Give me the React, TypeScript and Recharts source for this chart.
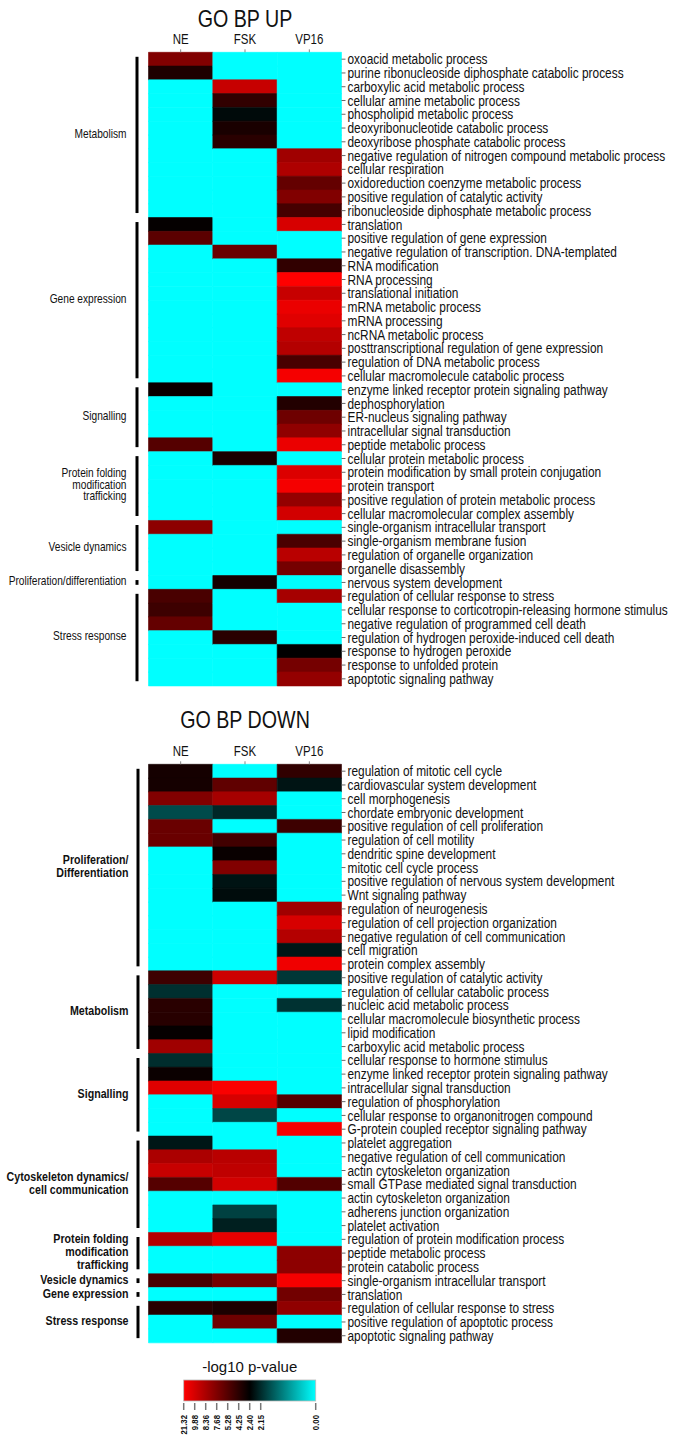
import React from 'react';
import { BarChart, Bar, XAxis, YAxis, Cell } from 'recharts';

const columns = ['NE', 'FSK', 'VP16'];

// GO BP UP terms, top to bottom
const upTerms = [
  'oxoacid metabolic process',
  'purine ribonucleoside diphosphate catabolic process',
  'carboxylic acid metabolic process',
  'cellular amine metabolic process',
  'phospholipid metabolic process',
  'deoxyribonucleotide catabolic process',
  'deoxyribose phosphate catabolic process',
  'negative regulation of nitrogen compound metabolic process',
  'cellular respiration',
  'oxidoreduction coenzyme metabolic process',
  'positive regulation of catalytic activity',
  'ribonucleoside diphosphate metabolic process',
  'translation',
  'positive regulation of gene expression',
  'negative regulation of transcription. DNA-templated',
  'RNA modification',
  'RNA processing',
  'translational initiation',
  'mRNA metabolic process',
  'mRNA processing',
  'ncRNA metabolic process',
  'posttranscriptional regulation of gene expression',
  'regulation of DNA metabolic process',
  'cellular macromolecule catabolic process',
  'enzyme linked receptor protein signaling pathway',
  'dephosphorylation',
  'ER-nucleus signaling pathway',
  'intracellular signal transduction',
  'peptide metabolic process',
  'cellular protein metabolic process',
  'protein modification by small protein conjugation',
  'protein transport',
  'positive regulation of protein metabolic process',
  'cellular macromolecular complex assembly',
  'single-organism intracellular transport',
  'single-organism membrane fusion',
  'regulation of organelle organization',
  'organelle disassembly',
  'nervous system development',
  'regulation of cellular response to stress',
  'cellular response to corticotropin-releasing hormone stimulus',
  'negative regulation of programmed cell death',
  'regulation of hydrogen peroxide-induced cell death',
  'response to hydrogen peroxide',
  'response to unfolded protein',
  'apoptotic signaling pathway',
];

// -log10 p-values (0 = not enriched)
const upNE = [7.7, 3.7, 0, 0, 0, 0, 0, 0, 0, 0, 0, 0, 2.6, 5.6, 0, 0, 0, 0, 0, 0, 0, 0, 0, 0, 2.8, 0, 0, 0, 5.3, 0, 0, 0, 0, 0, 7.9, 0, 0, 0, 0, 5.0, 4.7, 6.1, 0, 0, 0, 0];
const upFSK = [0, 0, 9.4, 4.4, 2.34, 3.5, 4.2, 0, 0, 0, 0, 0, 0, 0, 6.4, 0, 0, 0, 0, 0, 0, 0, 0, 0, 0, 0, 0, 0, 0, 3.5, 0, 0, 0, 0, 0, 0, 0, 0, 3.3, 0, 0, 0, 4.2, 0, 0, 0];
const upVP16 = [0, 0, 0, 0, 0, 0, 0, 8.2, 8.5, 6.1, 7.7, 4.9, 10.5, 0, 0, 4.4, 21.32, 9.4, 16, 13, 9.1, 8.7, 5.0, 18.6, 0, 3.9, 6.7, 7.95, 16, 0, 11.9, 18.6, 8.0, 9.8, 0, 5.0, 8.9, 7.1, 0, 8.3, 0, 0, 0, 2.4, 7.1, 8.0];

const upGroups = [
  { label: ['Metabolism'], rows: 12 },
  { label: ['Gene expression'], rows: 12 },
  { label: ['Signalling'], rows: 5 },
  { label: ['Protein folding', 'modification', 'trafficking'], rows: 5 },
  { label: ['Vesicle dynamics'], rows: 4 },
  { label: ['Proliferation/differentiation'], rows: 1 },
  { label: ['Stress response'], rows: 7 },
];

// GO BP DOWN terms
const downTerms = [
  'regulation of mitotic cell cycle',
  'cardiovascular system development',
  'cell morphogenesis',
  'chordate embryonic development',
  'positive regulation of cell proliferation',
  'regulation of cell motility',
  'dendritic spine development',
  'mitotic cell cycle process',
  'positive regulation of nervous system development',
  'Wnt signaling pathway',
  'regulation of neurogenesis',
  'regulation of cell projection organization',
  'negative regulation of cell communication',
  'cell migration',
  'protein complex assembly',
  'positive regulation of catalytic activity',
  'regulation of cellular catabolic process',
  'nucleic acid metabolic process',
  'cellular macromolecule biosynthetic process',
  'lipid modification',
  'carboxylic acid metabolic process',
  'cellular response to hormone stimulus',
  'enzyme linked receptor protein signaling pathway',
  'intracellular signal transduction',
  'regulation of phosphorylation',
  'cellular response to organonitrogen compound',
  'G-protein coupled receptor signaling pathway',
  'platelet aggregation',
  'negative regulation of cell communication',
  'actin cytoskeleton organization',
  'small GTPase mediated signal transduction',
  'actin cytoskeleton organization',
  'adherens junction organization',
  'platelet activation',
  'regulation of protein modification process',
  'peptide metabolic process',
  'protein catabolic process',
  'single-organism intracellular transport',
  'translation',
  'regulation of cellular response to stress',
  'positive regulation of apoptotic process',
  'apoptotic signaling pathway',
];

const downNE = [3.3, 3.3, 7.7, 1.82, 6.4, 6.4, 0, 0, 0, 0, 0, 0, 0, 0, 0, 4.7, 2.1, 4.2, 4.1, 2.6, 8.2, 2.12, 2.9, 13, 0, 0, 0, 2.27, 8.4, 9.4, 5.3, 0, 0, 0, 8.7, 0, 0, 5.0, 0, 4.1, 0, 0];
const downFSK = [0, 5.9, 8.3, 2.17, 0, 4.8, 2.8, 7.7, 2.29, 2.33, 0, 0, 0, 0, 0, 9.6, 0, 0, 0, 0, 0, 0, 0, 19.9, 10.5, 1.87, 0, 0, 8.9, 9.1, 9.8, 0, 1.92, 2.22, 14.6, 0, 0, 7.1, 0, 3.6, 6.7, 0];
const downVP16 = [4.4, 2.28, 0, 0, 4.7, 0, 0, 0, 0, 0, 8.2, 10.5, 8.7, 2.27, 17.3, 2.02, 0, 2.07, 0, 0, 0, 0, 0, 0, 5.3, 0, 18.6, 0, 0, 0, 5.2, 0, 0, 0, 0, 7.9, 7.9, 18.6, 6.9, 7.95, 0, 3.9];

const downGroups = [
  { label: ['Proliferation/', 'Differentiation'], rows: 15 },
  { label: ['Metabolism'], rows: 6 },
  { label: ['Signalling'], rows: 6 },
  { label: ['Cytoskeleton dynamics/', 'cell communication'], rows: 7 },
  { label: ['Protein folding', 'modification', 'trafficking'], rows: 3 },
  { label: ['Vesicle dynamics'], rows: 1 },
  { label: ['Gene expression'], rows: 1 },
  { label: ['Stress response'], rows: 3 },
];

// colour key: tick values and their slot along the bar (out of 12)
const legendValues = [21.32, 9.88, 8.36, 7.68, 5.28, 4.25, 2.4, 2.15, 0.0];
const legendSlots = [0, 1, 2, 3, 4, 5, 6, 7, 12];

// no Arial Narrow here, so squeeze Liberation Sans instead
const SANS = '"Liberation Sans", Arial, sans-serif';
const SQUEEZE = 0.82;

const ROW_H = 13.77;
const PLOT_TOP = 52.3;
const PLOT_LEFT = 148.5;
const LABEL_W = 333.5;

function valueToPos(v: number) {
  if (v >= legendValues[0]) return 0;
  if (v <= 0) return 1;
  for (let i = 0; i < legendValues.length - 1; i++) {
    const a = legendValues[i];
    const b = legendValues[i + 1];
    if (v <= a && v >= b) {
      const f = (a - v) / (a - b);
      return (legendSlots[i] + f * (legendSlots[i + 1] - legendSlots[i])) / 12;
    }
  }
  return 1;
}

// red -> black -> cyan
function heatColor(v: number) {
  const t = valueToPos(v);
  if (t <= 0.5) {
    const r = Math.round(255 * (1 - 2 * t));
    return `rgb(${r},0,0)`;
  }
  const g = Math.round(255 * (2 * t - 1));
  return `rgb(0,${g},${g})`;
}

function NarrowText({ x, y, size, anchor = 'start', weight = 400, dy = '0.35em', children }: any) {
  return (
    <text
      transform={`translate(${x},${y}) scale(${SQUEEZE},1)`}
      x={0}
      y={0}
      dy={dy}
      textAnchor={anchor}
      fontFamily={SANS}
      fontSize={size}
      fontWeight={weight}
      fill="#111"
    >
      {children}
    </text>
  );
}

function Heatmap({ title, terms, ne, fsk, vp16, groups, bold, top, titleBase }: any) {
  const data = terms.map((name: string, i: number) => ({ id: String(i), name, NE: ne[i], FSK: fsk[i], VP16: vp16[i] }));
  const height = PLOT_TOP + terms.length * ROW_H + 6;

  let start = 0;
  const groupMarks = groups.map((g: any) => {
    const y0 = PLOT_TOP + start * ROW_H;
    const y1 = y0 + g.rows * ROW_H;
    start += g.rows;
    return { ...g, y0, y1 };
  });

  const labelX = bold ? 128.5 : 126.5;
  const bracketX = bold ? 138 : 137;
  const lineH = bold ? 13 : 11.5;

  const termTick = (p: any) => (
    <NarrowText x={p.x} y={p.y} size={14.5}>
      {terms[Number(p.payload.value)]}
    </NarrowText>
  );
  const colTick = (p: any) => (
    <NarrowText x={p.x} y={p.y} size={14} anchor="middle" dy={0}>
      {columns[Math.floor(p.payload.value)]}
    </NarrowText>
  );

  return (
    <div style={{ position: 'absolute', left: 0, top, width: 675, height }}>
      <BarChart
        width={675}
        height={height}
        data={data}
        layout="vertical"
        margin={{ top: PLOT_TOP - 30, right: 0, bottom: 6, left: PLOT_LEFT }}
        barCategoryGap={0}
        barGap={0}
      >
        <XAxis
          type="number"
          orientation="top"
          domain={[0, 3]}
          ticks={[0.5, 1.5, 2.5]}
          axisLine={false}
          tickSize={3}
          tickMargin={5}
          tickLine={{ stroke: '#888' }}
          height={30}
          tick={colTick}
        />
        <YAxis
          type="category"
          dataKey="id"
          orientation="right"
          width={LABEL_W}
          interval={0}
          axisLine={false}
          tickSize={4}
          tickMargin={2}
          tickLine={{ stroke: '#666' }}
          tick={termTick}
        />
        {columns.map((c) => (
          <Bar key={c} dataKey={() => 1} stackId="cells" isAnimationActive={false}>
            {data.map((d: any, i: number) => {
              const fill = heatColor(d[c]);
              return <Cell key={i} fill={fill} stroke={fill} strokeWidth={0.6} />;
            })}
          </Bar>
        ))}
      </BarChart>
      <svg style={{ position: 'absolute', left: 0, top: -24, overflow: 'visible' }} width={675} height={PLOT_TOP + 24}>
        <NarrowText x={PLOT_LEFT + 96.5} y={titleBase + 24} size={24} anchor="middle" dy={0}>
          {title}
        </NarrowText>
      </svg>
      <svg style={{ position: 'absolute', left: 0, top: 0 }} width={PLOT_LEFT} height={height}>
        {groupMarks.map((g: any, gi: number) => {
          const mid = (g.y0 + g.y1) / 2 - 1.5;
          const firstY = mid - ((g.label.length - 1) * lineH) / 2;
          return (
            <g key={gi}>
              <line x1={bracketX} x2={bracketX} y1={g.y0 + 4.5} y2={g.y1 - 4.5} stroke="#000" strokeWidth={3} />
              {g.label.map((s: string, li: number) => (
                <NarrowText
                  key={li}
                  x={labelX}
                  y={firstY + li * lineH}
                  anchor="end"
                  weight={bold ? 700 : 400}
                  size={bold ? 13 : 12.4}
                >
                  {s}
                </NarrowText>
              ))}
            </g>
          );
        })}
      </svg>
    </div>
  );
}

function ColorKey({ top }: { top: number }) {
  const x0 = 183.7;
  const w = 132;
  return (
    <svg style={{ position: 'absolute', left: 0, top }} width={675} height={90}>
      <defs>
        <linearGradient id="keyGrad" x1="0" x2="1" y1="0" y2="0">
          <stop offset="0" stopColor="#ff0000" />
          <stop offset="0.5" stopColor="#000000" />
          <stop offset="1" stopColor="#00ffff" />
        </linearGradient>
      </defs>
      <text x={x0 + w / 2} y={12} textAnchor="middle" dy="0.35em" fontFamily={SANS} fontSize={15} fill="#111">
        -log10 p-value
      </text>
      <rect x={x0} y={25} width={w} height={21} fill="url(#keyGrad)" stroke="#bbb" strokeWidth={0.8} />
      {legendValues.map((v, i) => {
        const x = x0 + (legendSlots[i] / 12) * w;
        return (
          <g key={i}>
            <line x1={x} x2={x} y1={48} y2={55} stroke="#777" strokeWidth={1.5} />
            <text
              transform={`translate(${x + 3.4},${60}) rotate(-90) scale(${SQUEEZE},1)`}
              textAnchor="end"
              fontFamily={SANS}
              fontWeight={700}
              fontSize={9.5}
              fill="#111"
            >
              {v.toFixed(2)}
            </text>
          </g>
        );
      })}
    </svg>
  );
}

export default function App() {
  return (
    <div style={{ position: 'absolute', left: 0, top: 0, width: 675, height: 1442, background: '#fff', overflow: 'hidden' }}>
      <Heatmap title="GO BP UP" terms={upTerms} ne={upNE} fsk={upFSK} vp16={upVP16} groups={upGroups} bold={false} top={0} titleBase={26.5} />
      <Heatmap title="GO BP DOWN" terms={downTerms} ne={downNE} fsk={downFSK} vp16={downVP16} groups={downGroups} bold={true} top={712} titleBase={15.5} />
      <ColorKey top={1355} />
    </div>
  );
}
